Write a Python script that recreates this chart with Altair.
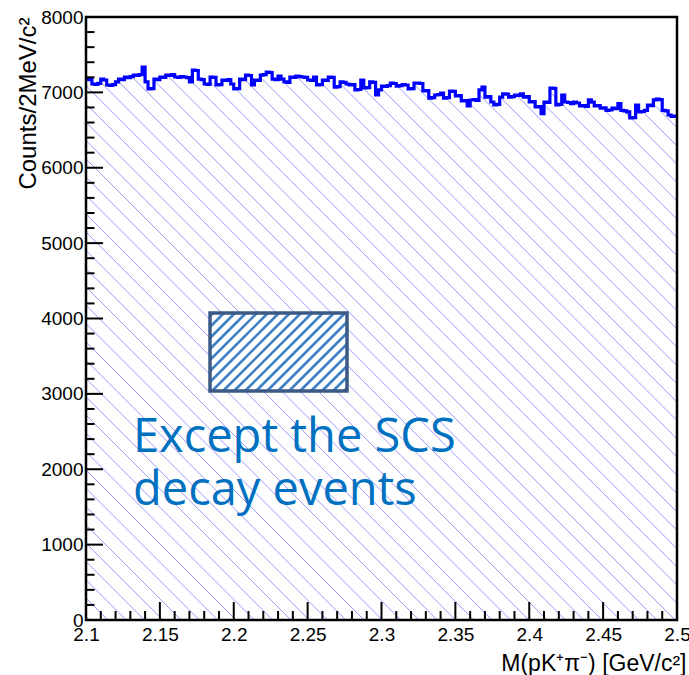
import altair as alt
import pandas as pd

# ---------------- data ----------------
X_MIN, X_MAX = 2.1, 2.5
Y_MIN, Y_MAX = 0, 8000
BIN_WIDTH = 0.002

counts = [
    7177, 7170, 7111, 7105, 7120, 7177, 7164, 7098, 7092, 7104,
    7138, 7177, 7170, 7204, 7196, 7210, 7230, 7225, 7236, 7336,
    7138, 7045, 7050, 7177, 7170, 7204, 7198, 7230, 7224, 7236,
    7204, 7198, 7210, 7204, 7196, 7138, 7297, 7290, 7177, 7170,
    7111, 7105, 7204, 7198, 7098, 7104, 7164, 7158, 7170, 7111,
    7045, 7050, 7177, 7170, 7230, 7224, 7098, 7164, 7158, 7230,
    7236, 7270, 7264, 7177, 7170, 7217, 7177, 7138, 7132, 7204,
    7198, 7217, 7210, 7204, 7198, 7164, 7158, 7204, 7098, 7104,
    7164, 7158, 7204, 7198, 7070, 7076, 7138, 7132, 7111, 7098,
    7104, 7032, 7038, 7164, 7058, 7064, 7138, 7132, 6965, 7032,
    7084, 7078, 7090, 7124, 7118, 7084, 7090, 7104, 7098, 7045,
    7050, 7124, 7124, 7118, 7018, 7024, 6925, 6930, 6965, 6970,
    6992, 6925, 6930, 7018, 7012, 6952, 6958, 6886, 6892, 6820,
    6899, 6905, 6893, 7032, 7070, 6938, 6944, 6872, 6833, 6840,
    6938, 6982, 6976, 6938, 6944, 6965, 6960, 6982, 6938, 6944,
    6872, 6878, 6806, 6812, 6718, 6872, 6866, 7058, 7052, 6833,
    6840, 6965, 6872, 6866, 6850, 6872, 6859, 6820, 6826, 6814,
    6900, 6870, 6820, 6826, 6790, 6796, 6760, 6766, 6790, 6784,
    6850, 6760, 6754, 6740, 6660, 6666, 6830, 6740, 6746, 6760,
    6830, 6824, 6900, 6910, 6904, 6760, 6754, 6700, 6680, 6686,
]

x_tick_labels = [2.1, 2.15, 2.2, 2.25, 2.3, 2.35, 2.4, 2.45, 2.5]
y_tick_labels = [0, 1000, 2000, 3000, 4000, 5000, 6000, 7000, 8000]
x_minor_step = 0.01
y_minor_step = 200

annotation_lines = ["Except the SCS", "decay events"]
x_title = "M(pK\u207a\u03c0\u207b) [GeV/c\u00b2]"
y_title = "Counts/2MeV/c\u00b2"

# ---------------- layout ----------------
W, H = 591, 603
PX_X = W / (X_MAX - X_MIN)
PX_Y = H / (Y_MAX - Y_MIN)


def to_data(px, py):
    return X_MIN + px / PX_X, Y_MAX - py / PX_Y


xs = alt.Scale(domain=[X_MIN, X_MAX], nice=False, zero=False)
ys = alt.Scale(domain=[Y_MIN, Y_MAX], nice=False, zero=False)
LABEL_FONT = "Liberation Sans"
xa = alt.Axis(values=x_tick_labels, format="~g", grid=False, ticks=False, domain=False,
              labelFont=LABEL_FONT, labelFontSize=19, labelColor="black", labelPadding=5,
              labelFlush=False, labelBaseline="top",
              title=x_title, titleFont=LABEL_FONT, titleFontSize=23, titleFontWeight="normal",
              titleColor="black", titleX=W + 9, titleY=50, titleAlign="right",
              titleBaseline="alphabetic")
ya = alt.Axis(values=y_tick_labels, format="d", grid=False, ticks=False, domain=False,
              labelFont=LABEL_FONT, labelFontSize=19, labelColor="black", labelPadding=3,
              labelFlush=False,
              title=y_title, titleFont=LABEL_FONT, titleFontSize=24, titleFontWeight="normal",
              titleColor="black", titleAngle=270, titleX=-51, titleY=0, titleAlign="right",
              titleBaseline="alphabetic")


def X(f):
    return alt.X(f, type="quantitative", scale=xs, axis=xa)


def Y(f):
    return alt.Y(f, type="quantitative", scale=ys, axis=ya)


# histogram table
edges = [round(X_MIN + i * BIN_WIDTH, 4) for i in range(len(counts) + 1)]
hist_df = pd.DataFrame({"x": edges, "y": counts + [counts[-1]], "top": Y_MAX})

# background hatch "\" lines (45 deg in pixel space), clipped to plot rect
hatch_rows = []
step = 18.3
c = 4.5 - step * int((H + 10) / step)
while c < W:
    if c >= 0:
        p0 = (c, 0.0)
    else:
        p0 = (0.0, -c)
    if c + H <= W:
        p1 = (c + H, float(H))
    else:
        p1 = (float(W), W - c)
    if p1[0] > p0[0]:
        xa0, ya0 = to_data(*p0)
        xb0, yb0 = to_data(*p1)
        hatch_rows.append({"x": xa0, "y": ya0, "x2": xb0, "y2": yb0})
    c += step
hatch_df = pd.DataFrame(hatch_rows)

# legend-like box (annotation) in data coordinates
BOX_PX = (124, 296, 261, 374)  # left, top, right, bottom (pixels in plot)
bx0, by0 = to_data(BOX_PX[0], BOX_PX[3])
bx1, by1 = to_data(BOX_PX[2], BOX_PX[1])
box_df = pd.DataFrame({"x": [bx0], "x2": [bx1], "y": [by0], "y2": [by1]})

box_rows = []
bstep = 11.0
cc = BOX_PX[0] + BOX_PX[1] + 3
while cc < BOX_PX[2] + BOX_PX[3]:
    xa_ = max(BOX_PX[0], cc - BOX_PX[3])
    xb_ = min(BOX_PX[2], cc - BOX_PX[1])
    if xb_ > xa_:
        d0 = to_data(xa_, cc - xa_)
        d1 = to_data(xb_, cc - xb_)
        box_rows.append({"x": d0[0], "y": d0[1], "x2": d1[0], "y2": d1[1]})
    cc += bstep
box_hatch_df = pd.DataFrame(box_rows)

tx, ty1 = to_data(47, 435)
_, ty2 = to_data(47, 488)
text_df = pd.DataFrame({"x": [tx, tx], "y": [ty1, ty2], "t": annotation_lines})

# tick marks (inward, ROOT style)
n_x = int(round((X_MAX - X_MIN) / x_minor_step))
xt = [round(X_MIN + i * x_minor_step, 4) for i in range(n_x + 1)]
xmaj_df = pd.DataFrame({"x": [v for v in xt if any(abs(v - m) < 1e-6 for m in x_tick_labels)]})
xmin_df = pd.DataFrame({"x": [v for v in xt if not any(abs(v - m) < 1e-6 for m in x_tick_labels)]})
yt = list(range(Y_MIN, Y_MAX + 1, y_minor_step))
ymaj_df = pd.DataFrame({"y": [v for v in yt if v in y_tick_labels]})
ymin_df = pd.DataFrame({"y": [v for v in yt if v not in y_tick_labels]})

# ---------------- layers ----------------
hatch = alt.Chart(hatch_df).mark_rule(color="#9a9aff", strokeWidth=1).encode(
    x=X("x"), y=Y("y"), x2="x2", y2="y2")

mask = alt.Chart(hist_df).mark_area(interpolate="step-after", color="white", opacity=1).encode(
    x=X("x"), y=Y("y"), y2="top")

line = alt.Chart(hist_df).mark_line(interpolate="step-after", color="#0000ff", strokeWidth=3.2).encode(
    x=X("x"), y=Y("y"))

box_fill = alt.Chart(box_df).mark_rect(color="white").encode(
    x=X("x"), x2="x2", y=Y("y"), y2="y2")
box_hatch = alt.Chart(box_hatch_df).mark_rule(color="#3f7fc3", strokeWidth=2.6).encode(
    x=X("x"), y=Y("y"), x2="x2", y2="y2")
box_border = alt.Chart(box_df).mark_rect(filled=False, stroke="#3a5a85", strokeWidth=3.5).encode(
    x=X("x"), x2="x2", y=Y("y"), y2="y2")

text = alt.Chart(text_df).mark_text(align="left", baseline="alphabetic", font="Open Sans",
                                    fontSize=47, color="#0070c0").encode(
    x=X("x"), y=Y("y"), text="t")

xmaj = alt.Chart(xmaj_df).mark_rule(color="black", strokeWidth=2).encode(
    x=X("x"), y=alt.value(H), y2=alt.value(H - 18))
xmin = alt.Chart(xmin_df).mark_rule(color="black", strokeWidth=2).encode(
    x=X("x"), y=alt.value(H), y2=alt.value(H - 9))
ymaj = alt.Chart(ymaj_df).mark_rule(color="black", strokeWidth=2).encode(
    y=Y("y"), x=alt.value(0), x2=alt.value(17))
ymin = alt.Chart(ymin_df).mark_rule(color="black", strokeWidth=2).encode(
    y=Y("y"), x=alt.value(0), x2=alt.value(8.5))

frame = alt.Chart(box_df).mark_rect(filled=False, stroke="black", strokeWidth=2.5).encode(
    x=alt.value(0), x2=alt.value(W), y=alt.value(0), y2=alt.value(H))

chart = alt.layer(
    hatch, mask, line, box_fill, box_hatch, box_border, text,
    xmaj, xmin, ymaj, ymin, frame
).properties(
    width=W, height=H,
    autosize=alt.AutoSizeParams(type="none"),
    padding={"left": 86, "top": 17, "right": 12, "bottom": 55},
    background="white",
).configure_view(strokeWidth=0)

chart.save("out.html", embed_options={"renderer": "svg", "actions": False})
